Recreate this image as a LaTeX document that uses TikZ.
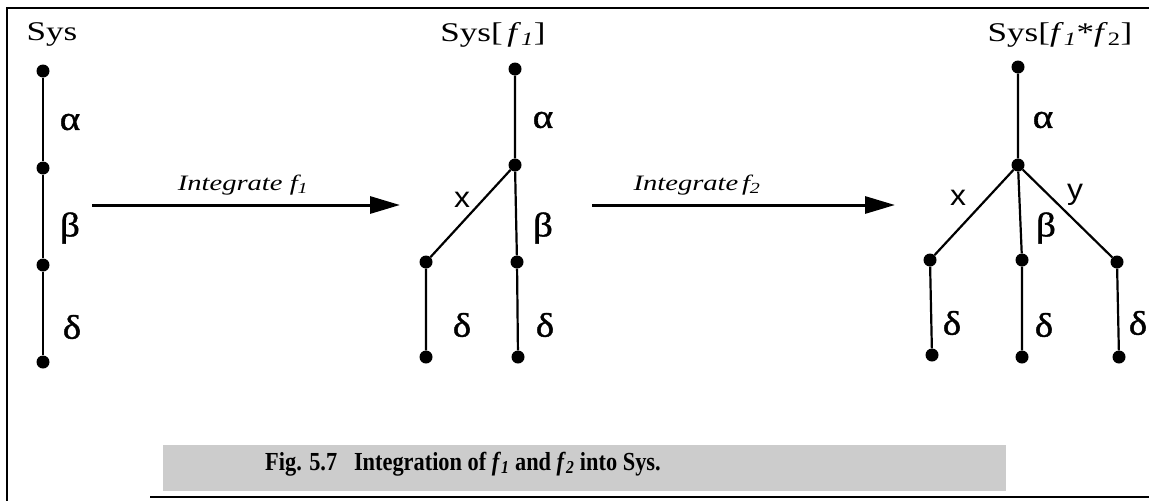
\documentclass[tikz,border=0pt]{standalone}
\usepackage{fontspec}
\setmainfont{Liberation Serif}
\newfontfamily\widefont{Liberation Serif}[FakeStretch=1.3]
\newfontfamily\greekfont{Liberation Serif}[FakeStretch=1.15,FakeBold=1.2]
\newfontfamily\narrowfont{Liberation Serif}[FakeStretch=0.86]
\newfontfamily\widesans{Liberation Sans}[FakeStretch=1.1]
\usetikzlibrary{arrows.meta}
\tikzset{
  dot/.style={circle,fill=black,inner sep=0pt,minimum size=13pt},
  edge/.style={line width=2.2pt},
  greek/.style={font=\greekfont\fontsize{34}{34}\selectfont,inner sep=0pt},
  branch/.style={font=\widesans\fontsize{29}{29}\selectfont,inner sep=0pt},
  title/.style={font=\widefont\fontsize{27}{27}\selectfont,inner sep=0pt},
  arrlabel/.style={font=\widefont\itshape\fontsize{22}{22}\selectfont,inner sep=0pt},
  bigarrow/.style={line width=3pt,-{Triangle[length=30pt,width=17pt]}},
  frame/.style={line width=2pt}
}
\newcommand{\fsub}[1]{\textit{f}\textsubscript{\textit{#1}}}
\begin{document}
\begin{tikzpicture}[x=1pt,y=-1pt]
\useasboundingbox (0,0) rectangle (1149,501);
% frame
\draw[frame] (1149,8) -- (7,8) -- (7,501);
\draw[line width=1.6pt] (150,497) -- (1149,497);
% caption band
\fill[gray!40] (163,445) rectangle (1006,491);
\node[anchor=base west,inner sep=0pt,font=\narrowfont\fontsize{26}{26}\selectfont\bfseries] (cap) at (265,470)
  {Fig. 5.7 \ \ Integration of \fsub{1} and \fsub{2} into Sys.};
% tree 1
\node[title] (t1) at (52,34) {Sys};
\node[dot] (a1) at (43,71) {};
\node[dot] (a2) at (43,168) {};
\node[dot] (a3) at (43,265) {};
\node[dot] (a4) at (43,362) {};
\draw[edge] (a1) -- (a2) -- (a3) -- (a4);
\node[greek] (la1) at (70,122) {α};
\node[greek] (lb1) at (70,228) {β};
\node[greek] (ld1) at (72,327) {δ};
% arrow 1
\coordinate (p1) at (92,205);
\coordinate (q1) at (400,205);
\draw[bigarrow] (p1) -- (q1);
\node[arrlabel] (i1) at (243,185) {Integrate \fsub{1}};
% tree 2
\node[title] (t2) at (493,35) {Sys[\,\fsub{1}]};
\node[dot] (b1) at (515,69) {};
\node[dot] (b2) at (515,165) {};
\node[dot] (b3) at (426,262) {};
\node[dot] (b4) at (426,357) {};
\node[dot] (b5) at (517,262) {};
\node[dot] (b6) at (518,357) {};
\draw[edge] (b1) -- (b2) -- (b5) -- (b6);
\draw[edge] (b2) -- (b3) -- (b4);
\node[greek] (la2) at (543,120) {α};
\node[branch] (lx2) at (462,200) {x};
\node[greek] (lb2) at (543,228) {β};
\node[greek] (ld2) at (462,325) {δ};
\node[greek] (ld3) at (545,325) {δ};
% arrow 2
\coordinate (p2) at (592,205);
\coordinate (q2) at (895,205);
\draw[bigarrow] (p2) -- (q2);
\node[arrlabel] (i2) at (697,185) {Integrate\,\fsub{2}};
% tree 3
\node[title] (t3) at (1060,35) {Sys[\fsub{1}*\textit{f}\textsubscript{2}]};
\node[dot] (c1) at (1018,67) {};
\node[dot] (c2) at (1018,165) {};
\node[dot] (c3) at (930,260) {};
\node[dot] (c4) at (1022,260) {};
\node[dot] (c5) at (1117,262) {};
\node[dot] (c6) at (932,355) {};
\node[dot] (c7) at (1022,357) {};
\node[dot] (c8) at (1119,357) {};
\draw[edge] (c1) -- (c2) -- (c4) -- (c7);
\draw[edge] (c2) -- (c3) -- (c6);
\draw[edge] (c2) -- (c5) -- (c8);
\node[greek] (la3) at (1043,120) {α};
\node[branch] (lx3) at (958,198) {x};
\node[greek] (lb3) at (1046,228) {β};
\node[branch] (ly3) at (1075,195) {y};
\node[greek] (ld4) at (952,323) {δ};
\node[greek] (ld5) at (1044,325) {δ};
\node[greek] (ld6) at (1138,323) {δ};
\end{tikzpicture}
\end{document}
